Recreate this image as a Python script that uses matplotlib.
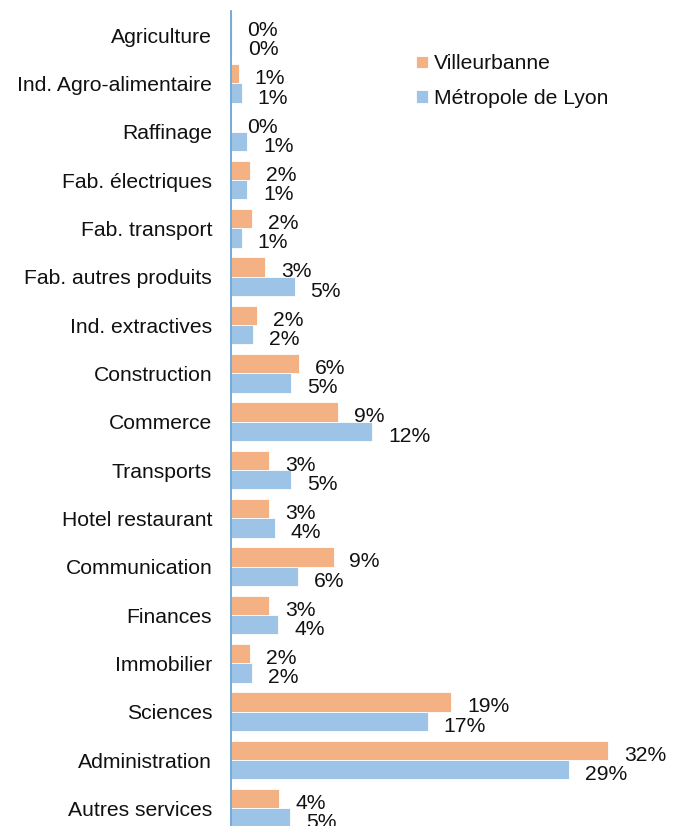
import matplotlib
matplotlib.use("Agg")
import matplotlib.pyplot as plt
import numpy as np

categories = ["Agriculture", "Ind. Agro-alimentaire", "Raffinage", "Fab. électriques",
              "Fab. transport", "Fab. autres produits", "Ind. extractives", "Construction",
              "Commerce", "Transports", "Hotel restaurant", "Communication", "Finances",
              "Immobilier", "Sciences", "Administration", "Autres services"]
villeurbanne = [0.05, 0.65, 0.0, 1.6, 1.75, 2.9, 2.2, 5.8, 9.1, 3.2, 3.2, 8.7, 3.2, 1.6, 18.7, 32.0, 4.1]
metropole = [0.1, 0.9, 1.4, 1.4, 0.9, 5.4, 1.9, 5.1, 12.0, 5.1, 3.7, 5.7, 4.0, 1.8, 16.7, 28.7, 5.0]
series_names = ["Villeurbanne", "Métropole de Lyon"]
colors = ["#F4B183", "#9DC3E6"]

plt.rcParams['font.family'] = ['Liberation Sans', 'DejaVu Sans']
FS = 15.2

fig = plt.figure(figsize=(6.77, 8.26), dpi=100)
ax = fig.add_axes([231/677, (826-832.5)/826, 436/677, 821.5/826])

y = np.arange(len(categories))
h = 0.4
b1 = ax.barh(y - h/2, villeurbanne, height=h, color=colors[0], edgecolor="white", linewidth=0.6, label=series_names[0])
b2 = ax.barh(y + h/2, metropole, height=h, color=colors[1], edgecolor="white", linewidth=0.6, label=series_names[1])

for bars, vals in ((b1, villeurbanne), (b2, metropole)):
    for rect, v in zip(bars, vals):
        ax.annotate(f"{v:.0f}%", xy=(v, rect.get_y() + rect.get_height()/2),
                    xytext=(11.5, -3.5), textcoords="offset points", ha="left", va="center",
                    fontsize=FS, color="#111111")

ax.set_ylim(len(categories) - 0.5, -0.5)
ax.set_xlim(0, 37)
ax.set_yticks(y)
ax.set_yticklabels(categories, fontsize=FS, color="#111111")
ax.tick_params(axis="y", length=0, pad=13.5)
ax.set_xticks([])
for s in ["top", "right", "bottom"]:
    ax.spines[s].set_visible(False)
ax.spines["left"].set_color("#5B9BD5")
ax.spines["left"].set_linewidth(1.2)

leg = fig.legend(handles=[b1, b2], labels=series_names, loc="upper left",
                 bbox_to_anchor=(410/677, 1 - 48/826), frameon=False, fontsize=FS,
                 handlelength=0.55, handleheight=0.55, handletextpad=0.3, labelspacing=0.75,
                 borderaxespad=0, borderpad=0.3)
for t in leg.get_texts():
    t.set_color("#111111")

fig.savefig("out.png", dpi=100)
